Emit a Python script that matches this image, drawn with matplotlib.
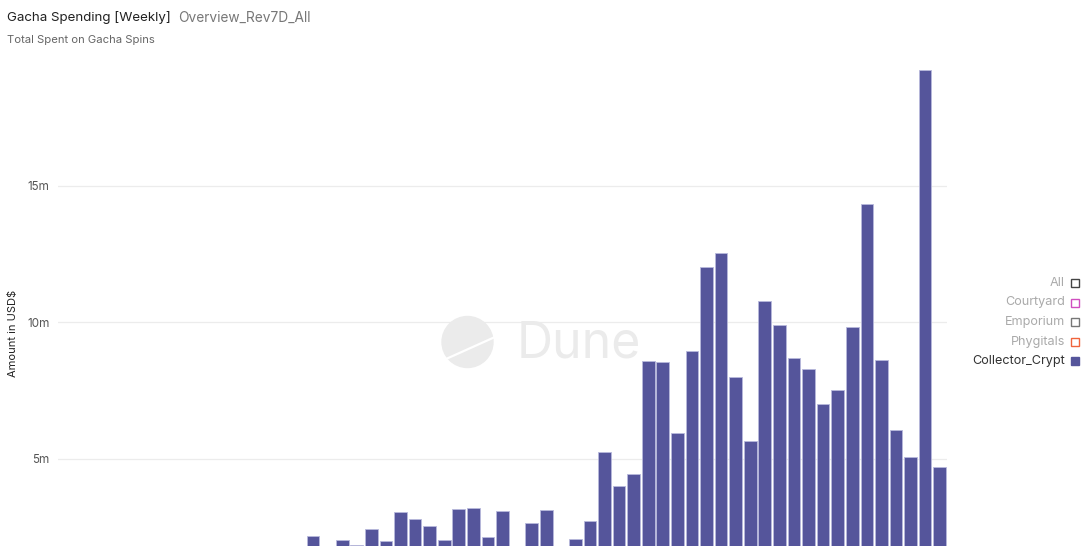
import matplotlib
matplotlib.use("Agg")
import matplotlib.pyplot as plt
import matplotlib.ticker as mticker
from matplotlib.lines import Line2D
from matplotlib.patches import Circle, Rectangle

plt.rcParams["font.family"] = ["Inter", "DejaVu Sans"]

# weekly totals in millions of USD (weeks before the first visible bar are below the visible range)
lead_weeks = 17
spend_m = [
    2.18, 1.5, 2.02, 1.86, 2.44, 2.01, 3.05, 2.80, 2.56, 2.02,
    3.17, 3.21, 2.13, 3.08, 1.5, 2.66, 3.13, 1.5, 2.06, 2.74,
    5.26, 4.01, 4.44, 8.58, 8.54, 5.95, 8.95, 12.02, 12.56, 8.00,
    5.67, 10.78, 9.90, 8.70, 8.31, 7.01, 7.54, 9.82, 14.34, 8.63,
    6.07, 5.07, 19.25, 4.72,
]
legend_names = ["All", "Courtyard", "Emporium", "Phygitals", "Collector_Crypt"]
legend_edge = ["#444444", "#d04fc0", "#777777", "#f0643c", "#55559b"]
legend_active = [False, False, False, False, True]
y_ticks = [5, 10, 15]

W, H = 1087, 546
fig = plt.figure(figsize=(W / 100, H / 100), dpi=100)
ax = fig.add_axes([58 / W, 0, (947 - 58) / W, (546 - 60) / H])

x = range(len(spend_m))
ax.bar(x, spend_m, width=0.87, color="#55559b", edgecolor="#b8b9dc", linewidth=0.6, zorder=3)
ax.set_xlim(-lead_weeks - 0.5, len(spend_m) - 0.5)
ax.set_ylim(1.813, 19.615)
ax.set_yticks(y_ticks)
ax.yaxis.set_major_formatter(mticker.FuncFormatter(lambda v, _: f"{v:.0f}m"))
ax.grid(axis="y", color="#ececec", linewidth=0.9, zorder=0)
ax.tick_params(axis="y", length=0, pad=6, labelsize=8.4, labelcolor="#555555")
ax.tick_params(axis="x", bottom=False, labelbottom=False)
for s in ax.spines.values():
    s.set_visible(False)

# watermark (pixel positions converted to inches from the bottom-left)
px = fig.dpi_scale_trans
fig.patches.append(Circle((4.675, (H - 342) / 100), 0.255, transform=px, color="#ebebeb", zorder=1))
fig.lines.append(Line2D([4.46, 4.95], [(H - 359) / 100, (H - 337) / 100], transform=px,
                        color="white", linewidth=1.6, zorder=2))
fig.text(517 / W, 1 - 344 / H, "Dune", fontsize=36, color="#ebebeb", ha="left", va="center", zorder=1)

fig.text(7 / W, 1 - 18 / H, "Gacha Spending [Weekly]", fontsize=9.6, color="#222222", va="center")
fig.text(178 / W, 1 - 18 / H, "Overview_Rev7D_All", fontsize=9.9, color="#777777", va="center")
fig.text(7 / W, 1 - 40 / H, "Total Spent on Gacha Spins", fontsize=8.1, color="#666666", va="center")
fig.text(13 / W, 1 - 333 / H, "Amount in USD$", fontsize=8, color="#222222", rotation=90,
         ha="center", va="center")

for i, name in enumerate(legend_names):
    yy = 1 - (283 + 19.5 * i) / H
    fig.text(1065 / W, yy, name, fontsize=9.1, ha="right", va="center",
             color="#333333" if legend_active[i] else "#aaaaaa")
    fig.patches.append(Rectangle((1071 / W, yy - 4 / H), 8 / W, 8 / H, transform=fig.transFigure,
                                 facecolor=legend_edge[i] if legend_active[i] else "white",
                                 edgecolor=legend_edge[i], linewidth=1.0))

fig.savefig("out.png", dpi=100)
